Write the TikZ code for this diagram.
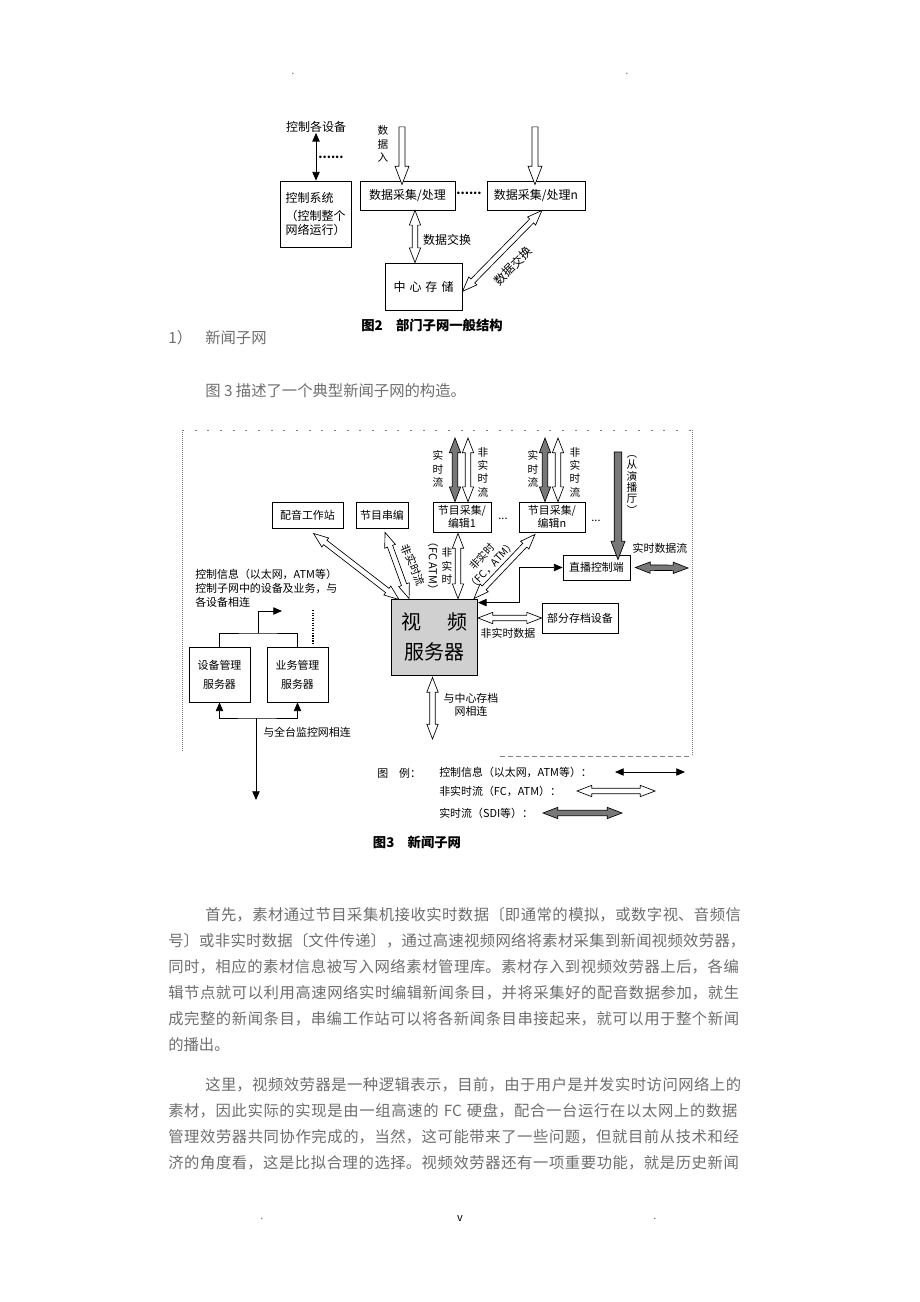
\documentclass[tikz,border=0pt]{standalone}
\usepackage{fontspec}
\setmainfont{Noto Sans CJK SC}
\usepackage{tikz}
\usetikzlibrary{arrows.meta,shapes.arrows,calc}
\XeTeXlinebreaklocale "zh"
\XeTeXlinebreakskip=0pt plus 1pt

\definecolor{txtgray}{RGB}{110,110,110}
\definecolor{rtgray}{RGB}{120,120,120}
\definecolor{srvgray}{RGB}{208,208,208}

\newcommand{\fsmall}{\fontsize{8.2pt}{9.5pt}\selectfont}
\newcommand{\fmid}{\fontsize{9pt}{10.5pt}\selectfont}
\newcommand{\fvert}{\fontsize{8pt}{10pt}\selectfont}
\newcommand{\fbig}{\fontsize{15pt}{18pt}\selectfont}
\newcommand{\fcap}{\fontsize{10pt}{12pt}\selectfont\bfseries}
\newcommand{\bodyfont}{\fontsize{11.5pt}{14pt}\selectfont}
\newcommand{\jl}[1]{{\noindent\parfillskip=0pt\relax #1\par}}
% fat arrow from #2 to #3
\newcommand{\fatarrow}[3]{\path let \p1=($(#3)-(#2)$), \n1={veclen(\x1,\y1)} in (#2) -- (#3) node [midway, sloped, allow upside down, #1, minimum height=\n1] {};}

\tikzset{
  box/.style={draw, line width=0.6pt, inner sep=0pt, align=center, font=\fsmall},
  lbl/.style={inner sep=0pt, align=center, font=\fsmall},
  ctrl/.style={line width=0.6pt, {Triangle[length=6.5pt,width=5.5pt]}-{Triangle[length=6.5pt,width=5.5pt]}},
  ctrlone/.style={line width=0.6pt, -{Triangle[length=6.5pt,width=5.5pt]}},
  nrt/.style={double arrow, draw, fill=white, line width=0.5pt, inner xsep=0pt, inner ysep=1.8pt,
    double arrow head extend=2.2pt, double arrow tip angle=42, minimum width=0pt},
  rt/.style={nrt, fill=rtgray},
  feed/.style={single arrow, draw, fill=white, line width=0.5pt, inner xsep=0pt, inner ysep=2pt,
    single arrow head extend=3pt, single arrow tip angle=42, minimum width=0pt},
  studio/.style={feed, fill=rtgray, inner ysep=2.6pt, single arrow head extend=2.4pt},
  bodytxt/.style={inner sep=0pt, anchor=west, text=txtgray, font=\bodyfont},
  bodyline/.style={bodytxt, text width=438pt},
  pagedot/.style={inner sep=0pt, text=txtgray, font=\fsmall}
}

\begin{document}
\begin{tikzpicture}[x=0.75pt, y=-0.75pt]
\fill [white] (0,0) rectangle (920,1302);
\useasboundingbox (0,0) rectangle (920,1302);
% page marks
\node [pagedot] (pd1) at (293,74) {.};
\node [pagedot] (pd2) at (627,74) {.};
\node [pagedot] (pd3) at (262,1219) {.};
\node [pagedot, text=black] (pnum) at (460,1219) {v};
\node [pagedot] (pd4) at (655,1219) {.};

% fig 2
\node [lbl, font=\fmid] (devs) at (316,127) {控制各设备};
\node [box, font=\fmid, align=left, minimum width=53.25pt, minimum height=49.5pt] (ctrlsys) at (315.5,214) {控制系统\\[3pt]（控制整个\\网络运行）};
\node [lbl, font=\fmid\bfseries] (dots1) at (331,157) {......};
\node [box, font=\fmid, minimum width=71.25pt, minimum height=21.75pt] (acq1) at (407.5,195.5) {数据采集/处理};
\node [box, font=\fmid, minimum width=73.5pt, minimum height=21.75pt] (acqn) at (536,195.5) {数据采集/处理n};
\node [lbl, font=\fmid\bfseries] (dots2) at (469,193) {......};
\node [box, font=\fmid, minimum width=57.75pt, minimum height=35.25pt] (store) at (423.5,286.5) {中\,\,心\,\,存\,\,储};
\node [lbl, font=\fvert] (inlbl) at (383,144) {数\\据\\入};
\node [lbl, font=\fmid] (xchg1) at (447,240) {数据交换};
\node [lbl, font=\fmid, rotate=45] (xchg2) at (513,266) {数据交换};
\node [lbl, font=\fcap] (cap2) at (432,325) {图2\quad 部门子网一般结构};

\coordinate (in1) at (402,123);
\coordinate (in1e) at (in1 |- acq1.north);
\coordinate (inn) at (535,123);
\coordinate (inne) at (inn |- acqn.north);
\coordinate (x1a) at ($(acq1.south)+(7.5,0)$);
\coordinate (x1b) at (x1a |- store.north);
\coordinate (x2a) at ($(store.east)+(0,5)$);
\coordinate (x2b) at ($(acqn.south)+(6,0)$);
\draw [ctrl] (devs.south) -- (devs.south |- ctrlsys.north);
\fatarrow{feed}{in1}{in1e}
\fatarrow{feed}{inn}{inne}
\fatarrow{nrt}{x1a}{x1b}
\fatarrow{nrt}{x2a}{x2b}

% text between figures
\node [bodytxt] (sec) at (168,338) {1）};
\node [bodytxt] (sectitle) at (205,338) {新闻子网};
\node [bodytxt] (intro) at (205,391) {图 3 描述了一个典型新闻子网的构造。};

% fig 3 frame
\draw [gray, line width=0.6pt, dash pattern=on 1.5pt off 8pt] (182,430) -- (692,430);
\draw [gray, line width=0.5pt, densely dotted] (182,430) -- (182,752);
\draw [gray, line width=0.5pt, densely dotted] (692,430) -- (692,756);
\draw [gray, line width=0.5pt, dash pattern=on 4pt off 2pt] (500,756) -- (692,756);

% fig 3 boxes
\node [box, minimum width=53.25pt, minimum height=19.5pt] (peiyin) at (307.5,515) {配音工作站};
\node [box, minimum width=39pt, minimum height=19.5pt] (chuanbian) at (382,515) {节目串编};
\node [box, minimum width=43.5pt, minimum height=22.5pt] (edit1) at (462,517) {节目采集/\\编辑1};
\node [box, minimum width=49.5pt, minimum height=22.5pt] (editn) at (552,517) {节目采集/\\编辑n};
\node [box, minimum width=50.25pt, minimum height=18.75pt] (live) at (596.5,567.5) {直播控制端};
\node [box, minimum width=57pt, minimum height=22.5pt] (archive) at (580,618) {部分存档设备};
\node [box, fill=srvgray, font=\fbig, minimum width=64.5pt, minimum height=57pt] (server) at (434.5,637) {视\hspace{1.3em}频\\[4pt]服务器};
\node [box, minimum width=45.75pt, minimum height=41.25pt] (devmgr) at (219.5,674.5) {设备管理\\[5pt]服务器};
\node [box, minimum width=45.75pt, minimum height=41.25pt] (bizmgr) at (297.5,674.5) {业务管理\\[5pt]服务器};

% fig 3 labels
\node [lbl, font=\fvert] (rt1) at (438,469) {实\\时\\流};
\node [lbl, font=\fvert] (nrt1) at (483,472) {非\\实\\时\\流};
\node [lbl, font=\fvert] (rt2) at (533,469) {实\\时\\流};
\node [lbl, font=\fvert] (nrt2) at (575,472) {非\\实\\时\\流};
\node [lbl, font=\fvert] (studiolbl) at (632,485) {︵\\[-1.5pt]从\\[-1.5pt]演\\[-1.5pt]播\\[-1.5pt]厅\\[-1.5pt]︶};
\node [lbl] (rtlbl) at (660,548) {实时数据流};
\node [lbl] (dots3) at (503,519) {...};
\node [lbl] (dots4) at (596,521) {...};
\node [lbl, rotate=-68] (cbl) at (413,565) {非实时流};
\node [lbl, font=\fvert] (e1l) at (447,566) {非\\实\\时};
\node [lbl, rotate=-90] (e1l2) at (433,566) {（FC ATM）};
\node [lbl, rotate=47, font=\fontsize{7.8pt}{9.5pt}\selectfont] (enl) at (487,561) {非实时\\（FC，ATM）};
\node [lbl] (nrtdata) at (508,633) {非实时数据};
\node [lbl] (central) at (471,705) {与中心存档\\网相连};
\node [lbl, anchor=west, align=left, font=\fontsize{8.2pt}{10.5pt}\selectfont] (ctrlinfo) at (195,588) {控制信息（以太网，ATM等）\\控制子网中的设备及业务，与\\各设备相连};
\node [lbl, anchor=west] (monitor) at (263,732) {与全台监控网相连};

% fig 3 connectors
\coordinate (e1rt) at (455,438);   \coordinate (e1rtb) at (e1rt |- edit1.north);
\coordinate (e1nrt) at (468,438);  \coordinate (e1nrtb) at (e1nrt |- edit1.north);
\coordinate (enrt) at (545,438);   \coordinate (enrtb) at (enrt |- editn.north);
\coordinate (ennrt) at (558,438);  \coordinate (ennrtb) at (ennrt |- editn.north);
\coordinate (st) at (618,447);     \coordinate (stb) at (st |- live.north);
\coordinate (lv) at ($(live.east)+(5,0)$);
\coordinate (rtout) at (688,568);
\fatarrow{rt}{e1rt}{e1rtb}
\fatarrow{nrt}{e1nrt}{e1nrtb}
\fatarrow{rt}{enrt}{enrtb}
\fatarrow{nrt}{ennrt}{ennrtb}
\fatarrow{studio}{st}{stb}
\fatarrow{rt}{lv}{rtout}

\coordinate (py) at ($(peiyin.south)+(6,5)$);      \coordinate (pys) at ($(server.north west)+(8,1)$);
\coordinate (cb) at ($(chuanbian.south)+(3,4)$);   \coordinate (cbs) at ($(server.north west)+(18,0)$);
\coordinate (e1) at ($(edit1.south)+(-4,1)$);      \coordinate (e1s) at (e1 |- server.north);
\coordinate (en) at ($(editn.south)+(-17,2)$);     \coordinate (ens) at ($(server.north east)+(-4,0)$);
\fatarrow{nrt}{py}{pys}
\fatarrow{nrt}{cb}{cbs}
\fatarrow{nrt}{e1}{e1s}
\fatarrow{nrt}{en}{ens}

\coordinate (sv) at ($(server.north east)+(0,4)$);
\draw [ctrl] (sv) -- ++(41,0) |- (live.west);
\coordinate (sa) at (server.east |- archive.west);
\fatarrow{nrt}{sa}{archive.west}
\coordinate (sb) at ($(server.south)+(-2,2)$);
\coordinate (sbo) at (sb |- 0,739);
\fatarrow{nrt}{sb}{sbo}

\coordinate (tj) at (258,633);
\coordinate (tout) at (282,611);
\draw [line width=0.6pt] (devmgr.north) |- (tj) -| (bizmgr.north);
\draw [ctrlone] (tj) |- (tout);
\draw [line width=0.9pt, densely dotted] (313,610) -- (313,645);
\coordinate (bj) at (256,718);
\coordinate (bout) at (256,800);
\draw [ctrl] (devmgr.south) |- (bj) -| (bizmgr.south);
\draw [ctrlone] (bj) -- (bout);

% legend
\node [lbl, anchor=west] (lg) at (377,773) {图\quad 例：};
\node [lbl, anchor=west] (lg1) at (439,772) {控制信息（以太网，ATM等）：};
\node [lbl, anchor=west] (lg2) at (439,791) {非实时流（FC，ATM）：};
\node [lbl, anchor=west] (lg3) at (439,813) {实时流（SDI等）：};
\coordinate (lg1a) at (615,772); \coordinate (lg1b) at (685,772);
\coordinate (lg2a) at (577,791); \coordinate (lg2b) at (655,791);
\coordinate (lg3a) at (543,813); \coordinate (lg3b) at (622,813);
\draw [ctrl] (lg1a) -- (lg1b);
\fatarrow{nrt}{lg2a}{lg2b}
\fatarrow{rt}{lg3a}{lg3b}
\node [lbl, font=\fcap] (cap3) at (417,842) {图3\quad 新闻子网};

% body text
\node [bodyline, text width=410.25pt] (p1a) at (205,915) {\jl{首先，素材通过节目采集机接收实时数据〔即通常的模拟，或数字视、音频信}};
\node [bodyline] (p1b) at (168,941) {\jl{号〕或非实时数据〔文件传递〕，通过高速视频网络将素材采集到新闻视频效劳器，}};
\node [bodyline] (p1c) at (168,967) {\jl{同时，相应的素材信息被写入网络素材管理库。素材存入到视频效劳器上后，各编}};
\node [bodyline] (p1d) at (168,993) {\jl{辑节点就可以利用高速网络实时编辑新闻条目，并将采集好的配音数据参加，就生}};
\node [bodyline] (p1e) at (168,1019) {\jl{成完整的新闻条目，串编工作站可以将各新闻条目串接起来，就可以用于整个新闻}};
\node [bodytxt] (p1f) at (168,1045) {的播出。};
\node [bodyline, text width=410.25pt] (p2a) at (205,1085) {\jl{这里，视频效劳器是一种逻辑表示，目前，由于用户是并发实时访问网络上的}};
\node [bodyline] (p2b) at (168,1111) {\jl{素材，因此实际的实现是由一组高速的 FC 硬盘，配合一台运行在以太网上的数据}};
\node [bodyline] (p2c) at (168,1137) {\jl{管理效劳器共同协作完成的，当然，这可能带来了一些问题，但就目前从技术和经}};
\node [bodyline] (p2d) at (168,1163) {\jl{济的角度看，这是比拟合理的选择。视频效劳器还有一项重要功能，就是历史新闻}};
\end{tikzpicture}
\end{document}
